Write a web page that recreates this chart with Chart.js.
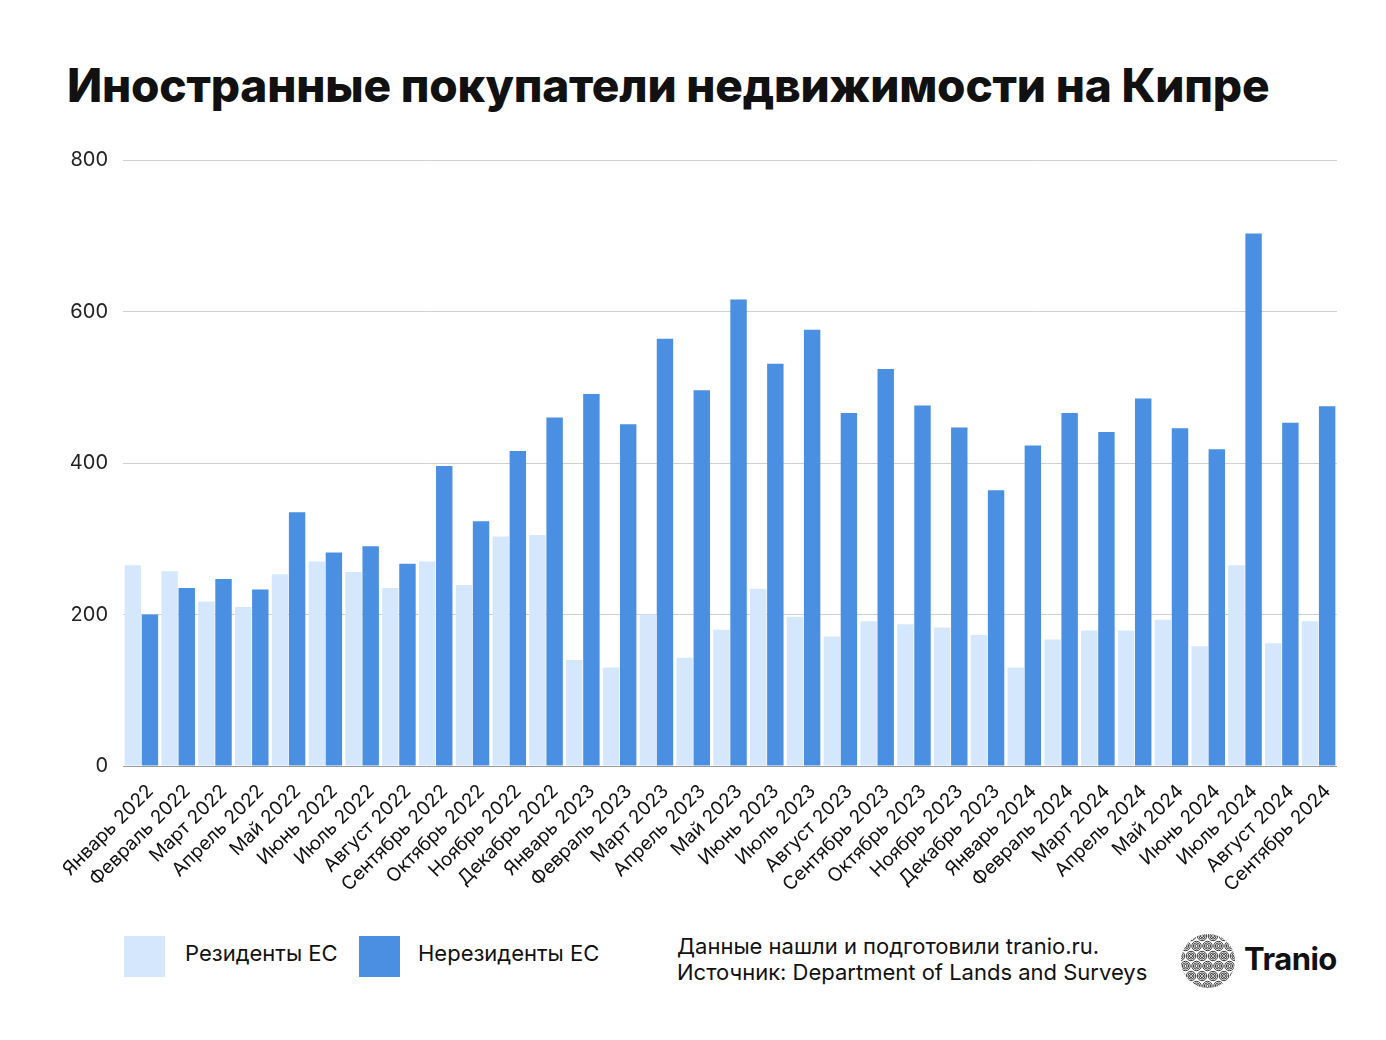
<!DOCTYPE html>
<html lang="ru">
<head>
<meta charset="utf-8">
<title>Иностранные покупатели недвижимости на Кипре</title>
<script src="https://cdn.jsdelivr.net/npm/chart.js@4.4.1/dist/chart.umd.min.js"></script>
<style>
  html, body { margin: 0; padding: 0; background: #fff; }
  body { width: 1386px; height: 1040px; position: relative; overflow: hidden; font-family: Inter, "Noto Sans", sans-serif; color: #111; }
  #title { position: absolute; left: 67px; top: 57px; margin: 0; font-size: 46px; font-weight: 800; letter-spacing: -0.2px; }
  #chartBox { position: absolute; left: 0; top: 0; width: 1386px; height: 906px; }
  .legend-box { position: absolute; top: 936px; width: 41px; height: 41px; }
  .legend-text { position: absolute; top: 940px; font-size: 22px; }
  #source { position: absolute; left: 677px; top: 933px; font-size: 22px; line-height: 26px; }
  #logo { position: absolute; left: 1180px; top: 933px; }
  #brand { position: absolute; left: 1244px; top: 940px; font-size: 31px; font-weight: 700; letter-spacing: -0.5px; }
</style>
</head>
<body>
<h1 id="title">Иностранные покупатели недвижимости на Кипре</h1>
<div id="chartBox"><canvas id="chart"></canvas></div>

<div class="legend-box" style="left:124px;background:#d5e7fd"></div>
<div class="legend-text" style="left:185px">Резиденты ЕС</div>
<div class="legend-box" style="left:359px;background:#4a8fe1"></div>
<div class="legend-text" style="left:418px">Нерезиденты ЕС</div>

<div id="source">Данные нашли и подготовили tranio.ru.<br>Источник: Department of Lands and Surveys</div>
<svg id="logo" width="56" height="56" viewBox="0 0 56 56"></svg>
<div id="brand">Tranio</div>

<script>
// Данные графика
const months = [
  "Январь 2022", "Февраль 2022", "Март 2022", "Апрель 2022", "Май 2022", "Июнь 2022",
  "Июль 2022", "Август 2022", "Сентябрь 2022", "Октябрь 2022", "Ноябрь 2022", "Декабрь 2022",
  "Январь 2023", "Февраль 2023", "Март 2023", "Апрель 2023", "Май 2023", "Июнь 2023",
  "Июль 2023", "Август 2023", "Сентябрь 2023", "Октябрь 2023", "Ноябрь 2023", "Декабрь 2023",
  "Январь 2024", "Февраль 2024", "Март 2024", "Апрель 2024", "Май 2024", "Июнь 2024",
  "Июль 2024", "Август 2024", "Сентябрь 2024"
];
const euResidents = [
  265, 257, 217, 210, 253, 270, 256, 235, 270, 239, 303, 305,
  140, 130, 200, 143, 180, 234, 197, 171, 191, 187, 183, 173,
  130, 167, 179, 179, 193, 158, 265, 162, 191
];
const nonEuResidents = [
  200, 235, 247, 233, 335, 282, 290, 267, 396, 323, 416, 460,
  491, 451, 564, 496, 616, 531, 576, 466, 524, 476, 447, 364,
  423, 466, 441, 485, 446, 418, 703, 453, 475
];
const yTicks = [0, 200, 400, 600, 800];

document.addEventListener("DOMContentLoaded", () => {
  const ctx = document.getElementById("chart");

  // Простой логотип: круг с завитками
  const logo = document.getElementById("logo");
  let svg = '<defs><clipPath id="c"><circle cx="28" cy="28" r="27"/></clipPath></defs><g clip-path="url(#c)" fill="none" stroke="#222" stroke-width="0.9">';
  for (let row = 0; row < 6; row++) {
    for (let col = 0; col < 6; col++) {
      const cx = col * 11 + (row % 2 ? 5.5 : 0);
      const cy = row * 10 + 3;
      for (let r = 1.5; r < 6; r += 1.6) {
        svg += `<circle cx="${cx}" cy="${cy}" r="${r}"/>`;
      }
    }
  }
  svg += "</g>";
  logo.innerHTML = svg;

  new Chart(ctx, {
    type: "bar",
    data: {
      labels: months,
      datasets: [
        {
          label: "Резиденты ЕС",
          data: euResidents,
          backgroundColor: "#d5e7fd",
          categoryPercentage: 0.93,
          barPercentage: 0.96
        },
        {
          label: "Нерезиденты ЕС",
          data: nonEuResidents,
          backgroundColor: "#4a8fe1",
          categoryPercentage: 0.93,
          barPercentage: 0.96
        }
      ]
    },
    options: {
      responsive: true,
      maintainAspectRatio: false,
      animation: false,
      layout: { padding: { top: 160, right: 49, left: 0, bottom: 0 } },
      plugins: {
        legend: { display: false },
        tooltip: { enabled: false }
      },
      scales: {
        x: {
          grid: { display: false },
          border: { display: false },
          ticks: {
            minRotation: 45,
            maxRotation: 45,
            autoSkip: false,
            padding: 6,
            labelOffset: 9,
            color: "#111",
            font: { family: "Inter", size: 19 }
          },
          afterFit: (scale) => { scale.height = 140; }
        },
        y: {
          min: 0,
          max: 800,
          afterBuildTicks: (scale) => { scale.ticks = yTicks.map((v) => ({ value: v })); },
          grid: {
            color: (c) => (c.tick && c.tick.value === 0 ? "#9a9a9a" : "#cfcfcf"),
            lineWidth: 1,
            drawTicks: false
          },
          border: { display: false },
          ticks: {
            padding: 15,
            color: "#222",
            font: { family: "Inter", size: 20 }
          },
          afterFit: (scale) => { scale.width = 123; }
        }
      }
    }
  });
});
</script>
</body>
</html>
